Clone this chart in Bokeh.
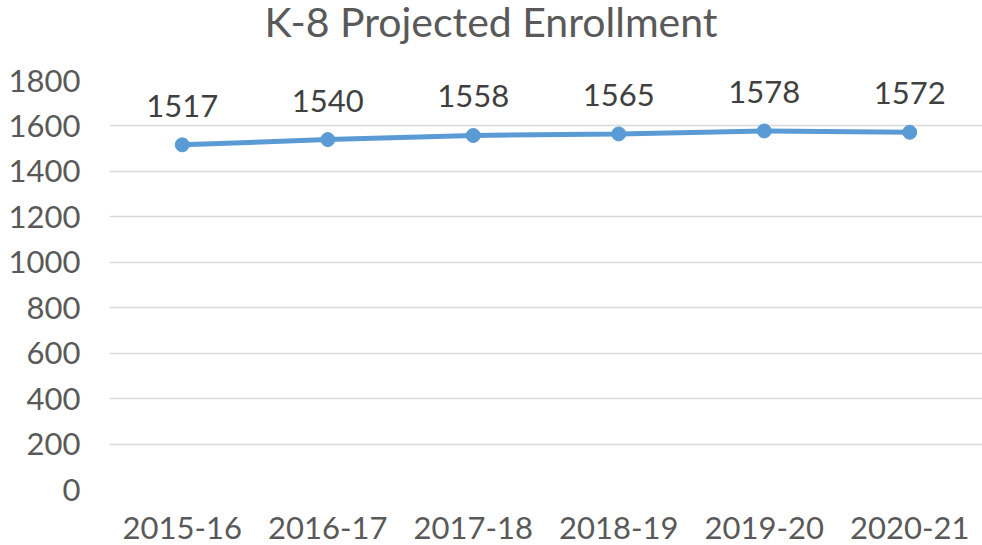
from bokeh.plotting import figure
from bokeh.models import ColumnDataSource, Range1d, FactorRange, Div
from bokeh.layouts import column
from bokeh.core.properties import value
from bokeh.embed import file_html
from bokeh.resources import INLINE

title_text = "K-8 Projected Enrollment"
years = ["2015-16", "2016-17", "2017-18", "2018-19", "2019-20", "2020-21"]
enrollment = [1517, 1540, 1558, 1565, 1578, 1572]
y_ticks = [0, 200, 400, 600, 800, 1000, 1200, 1400, 1600, 1800]

FONT = "Lato"
src = ColumnDataSource(dict(x=years, y=enrollment, lbl=[str(v) for v in enrollment]))

title_div = Div(
    text=('<div style="width:982px;text-align:center;font-family:Lato;font-size:41px;'
          'color:#595959;line-height:44px;white-space:nowrap;">' + title_text + '</div>'),
    width=982, height=44, margin=(0, 0, 0, 0))

p = figure(x_range=FactorRange(*years), y_range=Range1d(0, 1800),
           frame_width=873, frame_height=409, output_backend="svg", toolbar_location=None,
           min_border_left=109, min_border_right=0, min_border_top=36, min_border_bottom=55,
           margin=(0, 0, 0, 0))

p.outline_line_color = None
p.background_fill_color = "white"
p.border_fill_color = "white"

p.xgrid.grid_line_color = None
p.ygrid.grid_line_color = "#D9D9D9"
p.ygrid.grid_line_width = 1.5
p.yaxis.ticker = y_ticks

for ax in (p.xaxis, p.yaxis):
    ax.axis_line_color = None
    ax.major_tick_line_color = None
    ax.minor_tick_line_color = None
    ax.major_tick_out = 0
    ax.major_tick_in = 0
    ax.major_label_text_font = FONT
    ax.major_label_text_font_size = "31px"
    ax.major_label_text_color = "#595959"
p.xaxis.major_label_standoff = 27
p.yaxis.major_label_standoff = 29

p.line("x", "y", source=src, line_color="#5B9BD5", line_width=5)
p.scatter("x", "y", source=src, size=14, fill_color="#5B9BD5", line_color="#5B9BD5")
p.text("x", "y", text="lbl", source=src, y_offset=-39, text_align="center",
       text_baseline="alphabetic", text_font=value(FONT), text_font_size="31px",
       text_color="#404040")

layout = column(title_div, p, spacing=0)
open("out.html", "w").write(file_html(layout, INLINE))
